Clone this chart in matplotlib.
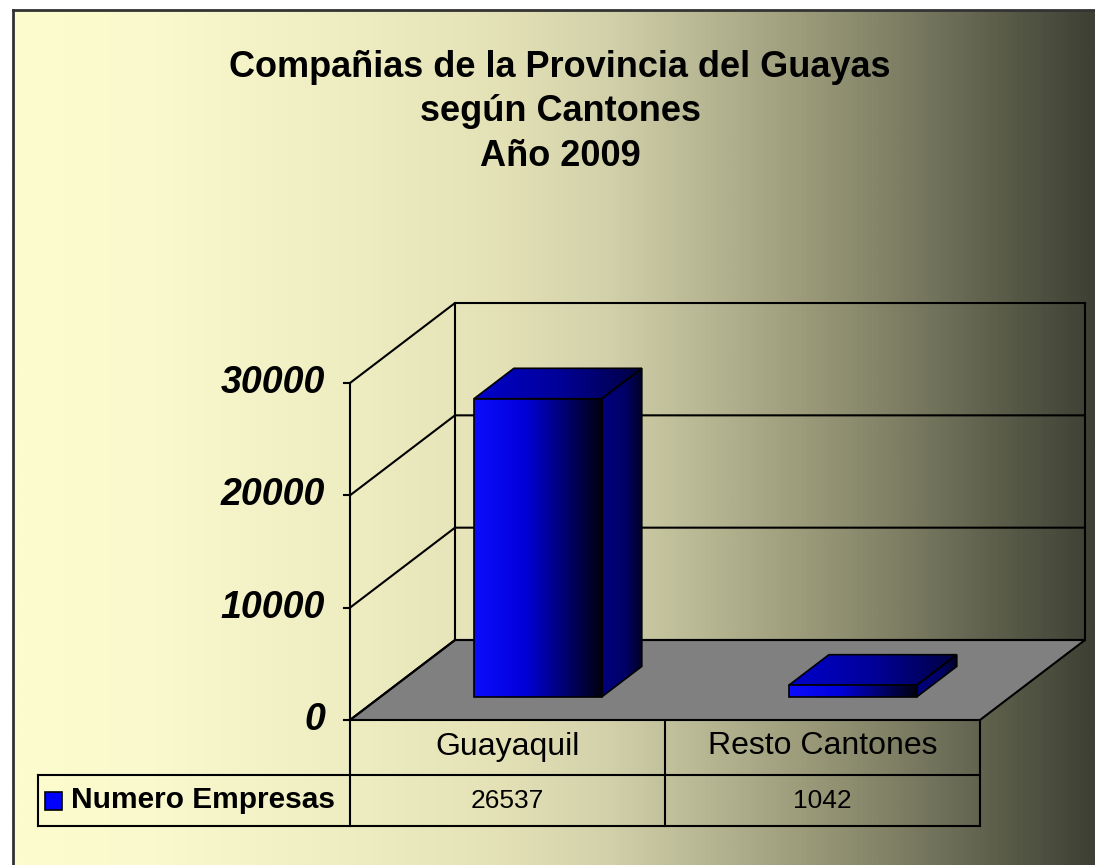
import numpy as np
import matplotlib
matplotlib.use("Agg")
import matplotlib.pyplot as plt
from matplotlib.patches import Polygon, Rectangle
from matplotlib.colors import LinearSegmentedColormap

# data
categories = ["Guayaquil", "Resto Cantones"]
values = [26537, 1042]
series_name = "Numero Empresas"
yticks = [0, 10000, 20000, 30000]
title_lines = ["Compañias de la Provincia del Guayas", "según Cantones", "Año 2009"]

W, H = 1095, 865
plt.rcParams["font.family"] = ["Liberation Sans", "DejaVu Sans"]
fig = plt.figure(figsize=(W / 100, H / 100), dpi=100, facecolor="white")

# background panel in pixel coords
bg = fig.add_axes([0, 0, 1, 1])
bg.axis("off")
bg_stops = [(0.0, (252, 252, 206)), (0.13, (249, 249, 205)), (0.33, (236, 236, 192)),
            (0.45, (228, 225, 182)), (0.55, (210, 209, 170)), (0.65, (180, 180, 145)),
            (0.75, (150, 150, 118)), (0.85, (115, 116, 92)), (0.93, (86, 88, 70)),
            (1.0, (62, 64, 52))]
bg_cmap = LinearSegmentedColormap.from_list(
    "bg", [(p, tuple(c / 255 for c in rgb)) for p, rgb in bg_stops])
bg.imshow(np.linspace(0, 1, 600).reshape(1, -1), cmap=bg_cmap,
          extent=(13, W, H, 10), aspect="auto", zorder=0)
bg.plot([13, 13], [H, 10], color="#333333", lw=2, zorder=1)
bg.plot([13, W], [10, 10], color="#333333", lw=2, zorder=1)
bg.set_xlim(0, W)
bg.set_ylim(H, 0)

# chart axes: x in category units, y in value units (front plane)
X0, CW, Y0, PPV = 350, 315, 720, 112.33 / 10000
DX, DY = 105 / CW, 80 / PPV
ax = fig.add_axes([0, 0, 1, 1])
ax.patch.set_alpha(0)
ax.axis("off")


def proj(x, v, d):
    return (x + d * DX, v + d * DY)


def grad_face(pts, stops, z):
    poly = Polygon(pts, closed=True, facecolor="none", edgecolor="black", lw=1.2, zorder=z + 0.5)
    ax.add_patch(poly)
    xs = [p[0] for p in pts]
    ys = [p[1] for p in pts]
    cm = LinearSegmentedColormap.from_list("f", stops)
    im = ax.imshow(np.linspace(0, 1, 256).reshape(1, -1), cmap=cm,
                   extent=(min(xs), max(xs), min(ys), max(ys)),
                   aspect="auto", origin="lower", zorder=z)
    im.set_clip_path(poly)


xl, xr = -0.5, len(categories) - 0.5
top = yticks[-1]

# floor
floor = [proj(xl, 0, 0), proj(xr, 0, 0), proj(xr, 0, 1), proj(xl, 0, 1)]
ax.add_patch(Polygon(floor, closed=True, facecolor="#808080", edgecolor="black", lw=1.5, zorder=2))

# walls and gridlines
for t in yticks:
    p0, p1, p2 = proj(xl, t, 0), proj(xl, t, 1), proj(xr, t, 1)
    ax.plot([p0[0], p1[0], p2[0]], [p0[1], p1[1], p2[1]], color="black", lw=1.5, zorder=3)
for x in (xl, xr):
    a, b = proj(x, 0, 1), proj(x, top, 1)
    ax.plot([a[0], b[0]], [a[1], b[1]], color="black", lw=1.5, zorder=3)
ax.plot([xl, xl], [0, top], color="black", lw=1.5, zorder=3)

# ticks and labels
tick_len = 6 / CW
for t in yticks:
    ax.plot([xl - tick_len, xl], [t, t], color="black", lw=1.5, zorder=3)
    ax.text(xl - 25 / CW, t, str(t), ha="right", va="center", fontsize=27,
            fontweight="bold", fontstyle="italic", zorder=5)

# bars
HW, D0, D1 = 0.203, 0.29, 0.67
front_stops = [(0.0, (0.05, 0.05, 1.0)), (0.4, (0, 0, 0.85)), (1.0, (0, 0, 0.06))]
side_stops = [(0.0, (0, 0, 0.5)), (0.6, (0, 0, 0.4)), (1.0, (0, 0, 0.15))]
top_stops = [(0.0, (0, 0, 0.8)), (0.5, (0, 0, 0.6)), (1.0, (0, 0, 0.25))]
for i, v in enumerate(values):
    bl, br = i - HW, i + HW
    side = [proj(br, 0, D0), proj(br, 0, D1), proj(br, v, D1), proj(br, v, D0)]
    topf = [proj(bl, v, D0), proj(br, v, D0), proj(br, v, D1), proj(bl, v, D1)]
    front = [proj(bl, 0, D0), proj(br, 0, D0), proj(br, v, D0), proj(bl, v, D0)]
    grad_face(side, side_stops, 6)
    grad_face(topf, top_stops, 6)
    grad_face(front, front_stops, 7)

ax.set_xlim(xl - X0 / CW, xl + (W - X0) / CW)
ax.set_ylim(-(H - Y0) / PPV, Y0 / PPV)

# data table (pixel coords)
r0, r1, r2 = 720, 775, 826
cx = [X0 + CW * k for k in range(len(categories) + 1)]
lk = dict(color="black", lw=1.5, zorder=3)
bg.plot([cx[0], cx[-1]], [r1, r1], **lk)
bg.plot([38, cx[-1]], [r2, r2], **lk)
bg.plot([38, cx[0]], [r1, r1], **lk)
bg.plot([38, 38], [r1, r2], **lk)
for c in cx:
    bg.plot([c, c], [r0, r2], **lk)
for k, (name, v) in enumerate(zip(categories, values)):
    mid = (cx[k] + cx[k + 1]) / 2
    bg.text(mid, (r0 + r1) / 2 - 1, name, ha="center", va="center", fontsize=23, zorder=5)
    bg.text(mid, (r1 + r2) / 2, str(v), ha="center", va="center", fontsize=19, zorder=5)
bg.add_patch(Rectangle((45, 792), 17, 18, facecolor="#0000ff", edgecolor="black", lw=1.2, zorder=5))
bg.text(71, (r1 + r2) / 2, series_name, ha="left", va="center", fontsize=21.5,
        fontweight="bold", zorder=5)

# title
for txt, yb in zip(title_lines, [77, 121, 166]):
    bg.text(560, yb, txt, ha="center", va="baseline", fontsize=26, fontweight="bold", zorder=5)

fig.savefig("out.png", dpi=100, facecolor="white")
